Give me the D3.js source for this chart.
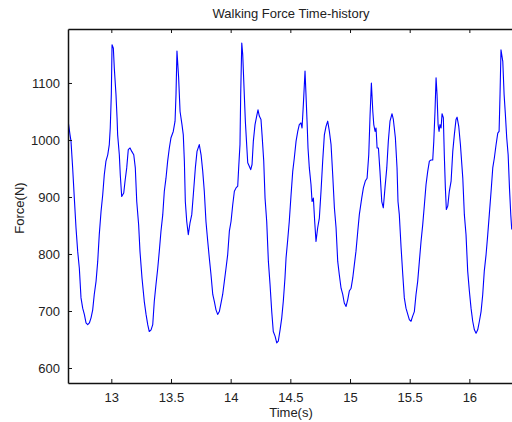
<!DOCTYPE html>
<html>
<head>
<meta charset="utf-8">
<script src="https://cdn.jsdelivr.net/npm/d3@7"></script>
<style>
  html, body { margin: 0; padding: 0; background: #fff; }
  svg { display: block; }
  text { font-family: "Liberation Sans", Arial, Helvetica, sans-serif; fill: #222; }
</style>
</head>
<body>
<svg id="chart" width="512" height="422"></svg>
<script>
const title = "Walking Force Time-history";
const xLabel = "Time(s)";
const yLabel = "Force(N)";
const xTicks = [13, 13.5, 14, 14.5, 15, 15.5, 16];
const xTickLabels = ["13", "13.5", "14", "14.5", "15", "15.5", "16"];
const yTicks = [600, 700, 800, 900, 1000, 1100];
const yTickLabels = ["600", "700", "800", "900", "1000", "1100"];

const time = [
12.637,12.654,12.662,12.676,12.690,12.704,12.718,12.732,12.746,12.760,12.774,12.788,12.802,12.816,12.830,12.844,12.857,12.872,12.886,12.899,
12.914,12.928,12.941,12.955,12.970,12.983,12.991,13.000,13.006,13.017,13.025,13.039,13.048,13.053,13.067,13.075,13.087,13.104,13.115,13.129,
13.142,13.157,13.171,13.188,13.201,13.213,13.229,13.240,13.257,13.276,13.291,13.305,13.318,13.333,13.347,13.360,13.374,13.389,13.402,13.416,
13.431,13.444,13.458,13.472,13.486,13.500,13.519,13.534,13.542,13.550,13.564,13.576,13.592,13.603,13.612,13.620,13.632,13.645,13.659,13.674,
13.687,13.704,13.718,13.737,13.752,13.766,13.779,13.793,13.808,13.821,13.835,13.850,13.863,13.877,13.891,13.905,13.919,13.933,13.947,13.961,
13.975,13.989,14.003,14.017,14.031,14.045,14.059,14.067,14.078,14.084,14.093,14.101,14.112,14.123,14.134,14.143,14.156,14.168,14.179,14.190,
14.204,14.218,14.229,14.240,14.254,14.263,14.277,14.288,14.302,14.316,14.330,14.344,14.357,14.372,14.386,14.399,14.414,14.428,14.441,14.455,
14.464,14.478,14.491,14.506,14.520,14.533,14.548,14.562,14.575,14.589,14.598,14.609,14.623,14.631,14.640,14.648,14.659,14.673,14.682,14.693,
14.704,14.715,14.729,14.743,14.757,14.771,14.785,14.799,14.813,14.827,14.841,14.855,14.869,14.883,14.897,14.910,14.925,14.939,14.952,14.967,
14.981,14.994,15.009,15.023,15.036,15.050,15.065,15.078,15.098,15.112,15.128,15.143,15.157,15.168,15.179,15.191,15.199,15.210,15.218,15.227,
15.238,15.251,15.266,15.279,15.293,15.308,15.321,15.335,15.352,15.363,15.380,15.394,15.402,15.413,15.428,15.442,15.455,15.469,15.484,15.497,
15.511,15.525,15.539,15.553,15.567,15.581,15.595,15.609,15.623,15.637,15.651,15.665,15.679,15.693,15.702,15.712,15.721,15.729,15.738,15.746,
15.754,15.763,15.771,15.782,15.790,15.799,15.807,15.819,15.832,15.847,15.861,15.874,15.888,15.897,15.911,15.925,15.945,15.958,15.972,15.986,
16.000,16.014,16.028,16.042,16.056,16.070,16.084,16.098,16.112,16.125,16.140,16.154,16.167,16.182,16.196,16.209,16.224,16.238,16.249,16.257,
16.265,16.280,16.291,16.302,16.313,16.325,16.336,16.347,16.355
];
const force = [
1035,1009,998,951,898,846,805,775,723,705,694,679,676,679,688,702,729,752,787,834,
875,904,939,963,974,992,1021,1080,1167,1161,1126,1080,1039,1009,974,939,901,907,928,951,
983,986,980,974,951,892,851,805,758,717,694,676,664,667,676,717,746,775,805,840,
869,910,933,963,986,1004,1015,1033,1080,1156,1109,1050,1027,1009,963,892,857,834,854,869,
904,951,980,992,974,945,910,857,822,793,764,729,717,702,694,699,714,729,752,775,
799,840,857,886,910,916,919,951,992,1080,1170,1150,1091,1033,992,960,954,948,957,998,
1027,1042,1053,1042,1036,1009,963,898,857,787,746,699,664,656,644,647,667,688,717,758,
793,825,857,904,945,968,998,1015,1027,1030,1021,1062,1121,1080,1033,986,951,922,892,898,
857,822,846,863,910,963,1009,1024,1033,1015,992,939,881,846,787,764,740,729,714,708,
720,735,740,758,781,805,840,869,898,916,928,933,974,1044,1100,1050,1027,1015,1021,986,
986,945,892,881,916,951,998,1033,1046,1036,1004,951,892,869,811,764,723,705,694,685,
682,691,699,729,752,787,822,851,886,922,945,963,965,965,998,1050,1109,1080,1027,1015,
1027,1021,1046,1039,974,916,878,884,910,928,980,1009,1036,1040,1024,992,933,869,834,770,
735,705,682,667,661,667,682,699,729,770,799,834,869,910,951,968,992,1012,1015,1080,
1158,1138,1080,1044,1004,974,916,869,843
];

(function () {
  const data = time.map((t, i) => ({ t: t, f: force[i] }));

  const svg = d3.select("#chart");
  const pL = 68, pR = 514, pT = 29, pB = 383;

  const x = d3.scaleLinear().domain([12.637, 16.374]).range([pL, pR]);
  const y = d3.scaleLinear().domain([573.7, 1194.7]).range([pB, pT]);

  svg.append("defs").append("clipPath").attr("id", "clip")
    .append("rect").attr("x", pL).attr("y", pT).attr("width", pR - pL).attr("height", pB - pT);

  svg.append("path")
    .datum(data)
    .attr("clip-path", "url(#clip)")
    .attr("fill", "none")
    .attr("stroke", "#0000ff")
    .attr("stroke-width", 1.1)
    .attr("stroke-linejoin", "round")
    .attr("d", d3.line().x(d => x(d.t)).y(d => y(d.f)));

  const xAxisB = d3.axisBottom(x).tickValues(xTicks).tickSizeInner(-4).tickSizeOuter(0)
    .tickPadding(10).tickFormat((d, i) => xTickLabels[i]);
  const gxb = svg.append("g").attr("transform", `translate(0,${pB})`).call(xAxisB);

  const xAxisT = d3.axisTop(x).tickValues(xTicks).tickSizeInner(-4).tickSizeOuter(0).tickFormat("");
  const gxt = svg.append("g").attr("transform", `translate(0,${pT})`).call(xAxisT);

  const yAxisL = d3.axisLeft(y).tickValues(yTicks).tickSizeInner(-4).tickSizeOuter(0)
    .tickPadding(8).tickFormat((d, i) => yTickLabels[i]);
  const gyl = svg.append("g").attr("transform", `translate(${pL},0)`).call(yAxisL);

  [gxb, gxt, gyl].forEach(g => {
    g.select(".domain").attr("stroke", "#111").attr("stroke-width", 1.5);
    g.selectAll(".tick line").attr("stroke", "#111").attr("stroke-width", 1);
    g.selectAll(".tick text").attr("font-size", 13).attr("fill", "#222")
      .attr("font-family", "'Liberation Sans', Arial, Helvetica, sans-serif");
  });

  svg.append("text").attr("x", 291).attr("y", 18).attr("text-anchor", "middle")
    .attr("font-size", 13).text(title);
  svg.append("text").attr("x", 291).attr("y", 417).attr("text-anchor", "middle")
    .attr("font-size", 13).text(xLabel);
  svg.append("text").attr("transform", "translate(24,208) rotate(-90)").attr("text-anchor", "middle")
    .attr("font-size", 13).text(yLabel);
})();
</script>
</body>
</html>
